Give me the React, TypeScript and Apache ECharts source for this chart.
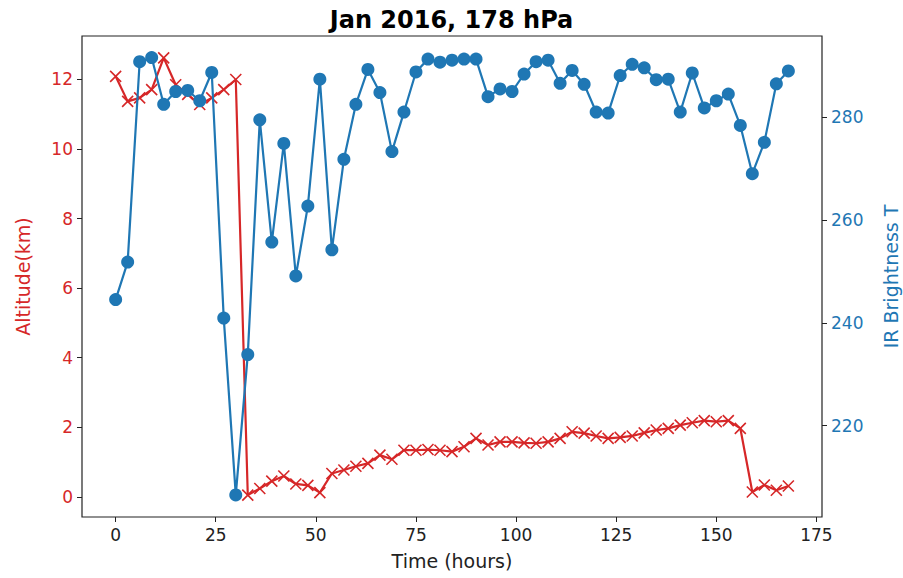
import React, { useEffect, useRef } from "react";
import * as echarts from "echarts";

const hours = [
  0, 3, 6, 9, 12, 15, 18, 21, 24, 27, 30, 33, 36, 39, 42, 45, 48, 51, 54, 57,
  60, 63, 66, 69, 72, 75, 78, 81, 84, 87, 90, 93, 96, 99, 102, 105, 108, 111,
  114, 117, 120, 123, 126, 129, 132, 135, 138, 141, 144, 147, 150, 153, 156,
  159, 162, 165, 168,
];

const altitudeKm = [
  12.09, 11.37, 11.47, 11.71, 12.62, 11.85, 11.57, 11.28, 11.47, 11.71, 12.0,
  0.05, 0.24, 0.45, 0.6, 0.37, 0.33, 0.12, 0.67, 0.77, 0.88, 0.96, 1.2, 1.08,
  1.34, 1.34, 1.36, 1.34, 1.3, 1.44, 1.68, 1.49, 1.58, 1.58, 1.55, 1.54, 1.58,
  1.68, 1.87, 1.83, 1.75, 1.68, 1.71, 1.75, 1.84, 1.92, 1.97, 2.06, 2.13, 2.19,
  2.16, 2.19, 1.97, 0.14, 0.34, 0.19, 0.31,
];

const brightnessT = [
  244.5, 251.8, 290.8, 291.6, 282.5, 285.0, 285.2, 283.2, 288.7, 240.9,
  206.5, 233.8, 279.5, 255.7, 274.9, 249.1, 262.7, 287.4, 254.2, 271.8,
  282.5, 289.3, 284.8, 273.3, 281.0, 288.8, 291.3, 290.7, 291.1, 291.3,
  291.3, 284.0, 285.5, 285.0, 288.4, 290.8, 291.1, 286.6, 289.1, 286.4,
  281.0, 280.8, 288.1, 290.3, 289.6, 287.3, 287.4, 281.0, 288.6, 281.8,
  283.2, 284.5, 278.4, 269.0, 275.1, 286.5, 289.0,
];

const xTicks = [0, 25, 50, 75, 100, 125, 150, 175];
const altTicks = [0, 2, 4, 6, 8, 10, 12];
const tbTicks = [220, 240, 260, 280];

const RED = "#d62728";
const BLUE = "#1f77b4";
const INK = "#222";
const FONT = "DejaVu Sans";

export default function App() {
  const ref = useRef<HTMLDivElement>(null);

  useEffect(() => {
    if (!ref.current) return;
    const chart = echarts.init(ref.current, null, { renderer: "svg" });

    const altData = hours.map((h, i) => [h, altitudeKm[i]]);
    const tbData = hours.map((h, i) => [h, brightnessT[i]]);

    chart.setOption({
      animation: false,
      backgroundColor: "#fff",
      textStyle: { fontFamily: FONT },
      title: {
        text: "Jan 2016, 178 hPa",
        left: "center",
        top: 3,
        textStyle: { fontFamily: FONT, fontWeight: "bold", fontSize: 24, color: "#000" },
      },
      grid: {
        left: 82,
        right: 81,
        top: 36,
        bottom: 61,
        show: true,
        borderColor: INK,
        borderWidth: 1.2,
        backgroundColor: "transparent",
        outerBoundsMode: "none",
        containLabel: false,
      },
      xAxis: {
        type: "value",
        min: -8.4,
        max: 176.4,
        name: "Time (hours)",
        nameLocation: "middle",
        nameGap: 34,
        nameTextStyle: { fontFamily: FONT, fontSize: 19, color: INK },
        axisLine: { show: false, onZero: false },
        axisTick: { show: true, length: 5, lineStyle: { color: INK, width: 1 }, customValues: xTicks },
        axisLabel: { customValues: xTicks, margin: 9, fontSize: 17, color: INK, fontFamily: FONT },
        splitLine: { show: false },
      },
      yAxis: [
        {
          type: "value",
          position: "left",
          min: -0.58,
          max: 13.25,
          name: "Altitude(km)",
          nameLocation: "middle",
          nameRotate: 90,
          nameGap: 50,
          nameTextStyle: { fontFamily: FONT, fontSize: 19, color: RED },
          axisLine: { show: false, onZero: false },
          axisTick: { show: true, length: 5, lineStyle: { color: INK, width: 1 }, customValues: altTicks },
          axisLabel: { customValues: altTicks, margin: 9, fontSize: 17, color: RED, fontFamily: FONT },
          splitLine: { show: false },
        },
        {
          type: "value",
          position: "right",
          min: 202.2,
          max: 295.8,
          name: "IR Brightness T",
          nameLocation: "middle",
          nameRotate: 90,
          nameGap: 59,
          nameTextStyle: { fontFamily: FONT, fontSize: 19, color: BLUE },
          axisLine: { show: false, onZero: false },
          axisTick: { show: true, length: 5, lineStyle: { color: INK, width: 1 }, customValues: tbTicks },
          axisLabel: { customValues: tbTicks, margin: 9, fontSize: 17, color: BLUE, fontFamily: FONT },
          splitLine: { show: false },
        },
      ],
      series: [
        {
          type: "line",
          name: "Altitude",
          yAxisIndex: 0,
          data: altData,
          symbol: "path://M0,0L10,10M10,0L0,10",
          symbolSize: 11,
          showAllSymbol: true,
          lineStyle: { color: RED, width: 2.2 },
          itemStyle: { color: RED, borderColor: RED, borderWidth: 1.6 },
          z: 2,
        },
        {
          type: "line",
          name: "IR Brightness T",
          yAxisIndex: 1,
          data: tbData,
          symbol: "circle",
          symbolSize: 13,
          showAllSymbol: true,
          lineStyle: { color: BLUE, width: 2.2 },
          itemStyle: { color: BLUE, borderWidth: 0 },
          z: 3,
        },
      ],
    });

    return () => chart.dispose();
  }, []);

  return (
    <div
      ref={ref}
      style={{ position: "fixed", left: 0, top: 0, width: 903, height: 578 }}
    />
  );
}
